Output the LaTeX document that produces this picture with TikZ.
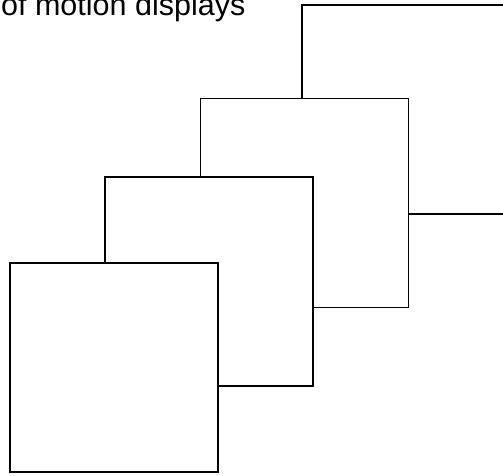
\documentclass[tikz,border=0pt]{standalone}
\usepackage{fontspec}
\setmainfont{Liberation Sans}
\usetikzlibrary{positioning}

\begin{document}
\begin{tikzpicture}[
  x=1pt,y=-1pt,
  frame/.style={draw,line width=1.9pt,fill=white,inner sep=0pt,
                minimum width=208pt,minimum height=209pt},
  caption/.style={font=\fontsize{30.5}{34}\selectfont,anchor=base west,inner sep=0pt}
]
\useasboundingbox (0,0) rectangle (503,475);

% Caption (runs off the top edge)
\node[caption] (title) at (1,15) {of motion displays};

% Stack of display frames, back to front
\node[frame] (disp4) at (406,109.5) {};
\node[frame] (disp3) at (304.5,203) {};
\node[frame] (disp2) at (209,281.5) {};
\node[frame] (disp1) at (114,367.5) {};

\end{tikzpicture}
\end{document}
